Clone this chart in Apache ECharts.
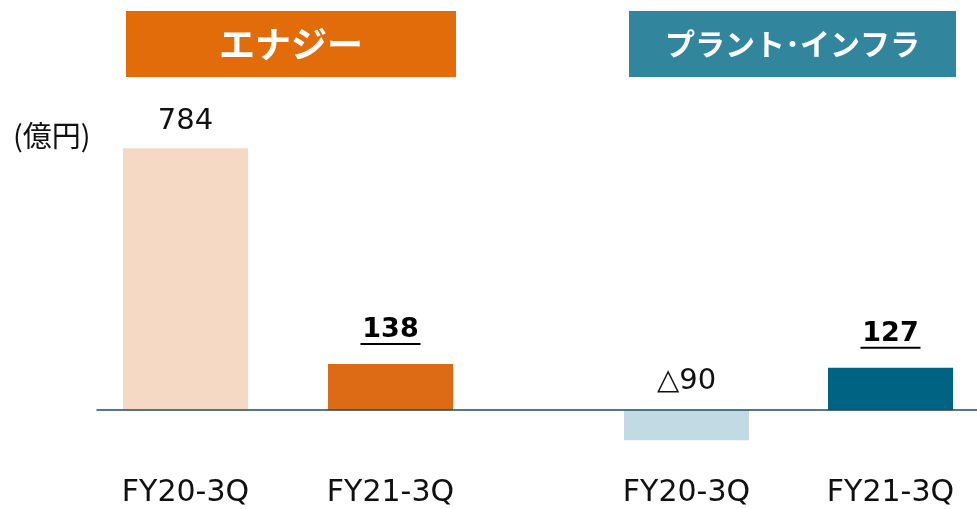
<!DOCTYPE html>
<html>
<head>
<meta charset="utf-8">
<script src="https://cdn.jsdelivr.net/npm/echarts@6/dist/echarts.min.js"></script>
<style>
html,body{margin:0;padding:0;background:#fff;}
#chart{width:977px;height:509px;}
</style>
</head>
<body>
<div id="chart"></div>
<script>
const categories = ['FY20-3Q', 'FY21-3Q'];
const segments = ['エナジー', 'プラント･インフラ'];
const energyValues = [784, 138];
const plantValues = [-90, 127];
const unitLabel = '(億円)';

const energyColors = ['#F5D9C5', '#DD6A15'];
const plantColors = ['#C1DAE3', '#006384'];
const headerColors = ['#E36C0A', '#31869D'];

const Y_MIN = -150, Y_MAX = 1000;
const GRID_TOP = 76, GRID_H = 384.3;

function fmtVal(v) { return v < 0 ? '△' + Math.abs(v) : String(v); }

function buildData(values, colors) {
  return values.map((v, i) => ({
    value: v,
    itemStyle: { color: colors[i] },
    label: i === 1
      ? { formatter: p => '{b|' + fmtVal(p.value) + '}\n{u|}', distance: 19 }
      : { formatter: p => '{n|' + fmtVal(p.value) + '}', distance: v < 0 ? 12 : 10 }
  }));
}

const richStyles = {
  n: { fontFamily: 'DejaVu Sans', fontSize: 29, color: '#111', lineHeight: 34 },
  b: { fontFamily: 'DejaVu Sans', fontWeight: 'bold', fontSize: 27, color: '#000', lineHeight: 26 },
  u: { width: 60, height: 2, backgroundColor: '#000', lineHeight: 2 }
};

const chart = echarts.init(document.getElementById('chart'), null, { renderer: 'canvas' });

function catAxis(idx) {
  return {
    type: 'category', gridIndex: idx, data: categories, boundaryGap: false,
    axisLine: { show: false, onZero: false }, axisTick: { show: false },
    axisLabel: { fontFamily: 'DejaVu Sans', fontSize: 30, color: '#111', margin: 18 }
  };
}
function valAxis(idx) {
  return { type: 'value', gridIndex: idx, min: Y_MIN, max: Y_MAX, show: false };
}

chart.setOption({
  animation: false,
  backgroundColor: '#fff',
  title: {
    text: unitLabel, left: 8, top: 116,
    textStyle: { fontFamily: 'Noto Sans CJK JP', fontSize: 29, fontWeight: 'normal', color: '#111' }
  },
  grid: [
    { left: 185.5, width: 205, top: GRID_TOP, height: GRID_H },
    { left: 686.5, width: 204, top: GRID_TOP, height: GRID_H },
    { left: 97, right: 0, top: GRID_TOP, height: GRID_H }
  ],
  xAxis: [
    catAxis(0), catAxis(1),
    { type: 'value', gridIndex: 2, min: 0, max: 1, z: 10,
      axisLine: { show: true, onZero: true, lineStyle: { color: '#1F4E60', width: 1.5 } },
      axisTick: { show: false }, axisLabel: { show: false }, splitLine: { show: false } }
  ],
  yAxis: [valAxis(0), valAxis(1), valAxis(2)],
  series: [
    { type: 'bar', xAxisIndex: 0, yAxisIndex: 0, barWidth: 125, clip: false,
      data: buildData(energyValues, energyColors),
      label: { show: true, position: 'top', rich: richStyles } },
    { type: 'bar', xAxisIndex: 1, yAxisIndex: 1, barWidth: 125, clip: false,
      data: buildData(plantValues, plantColors),
      label: { show: true, position: 'top', rich: richStyles } }
  ],
  graphic: [
    { type: 'group', left: 126, top: 11, children: [
      { type: 'rect', shape: { x: 0, y: 0, width: 330, height: 66 }, style: { fill: headerColors[0] } },
      { type: 'text', x: 165, y: 33, style: { text: segments[0], fill: '#fff', font: 'bold 36px "Noto Sans CJK JP"', align: 'center', verticalAlign: 'middle' } }
    ]},
    { type: 'group', left: 629, top: 11, children: [
      { type: 'rect', shape: { x: 0, y: 0, width: 327, height: 66 }, style: { fill: headerColors[1] } },
      { type: 'text', x: 163.5, y: 33, style: { text: segments[1], fill: '#fff', font: 'bold 30px "Noto Sans CJK JP"', align: 'center', verticalAlign: 'middle' } }
    ]}
  ]
});
</script>
</body>
</html>
